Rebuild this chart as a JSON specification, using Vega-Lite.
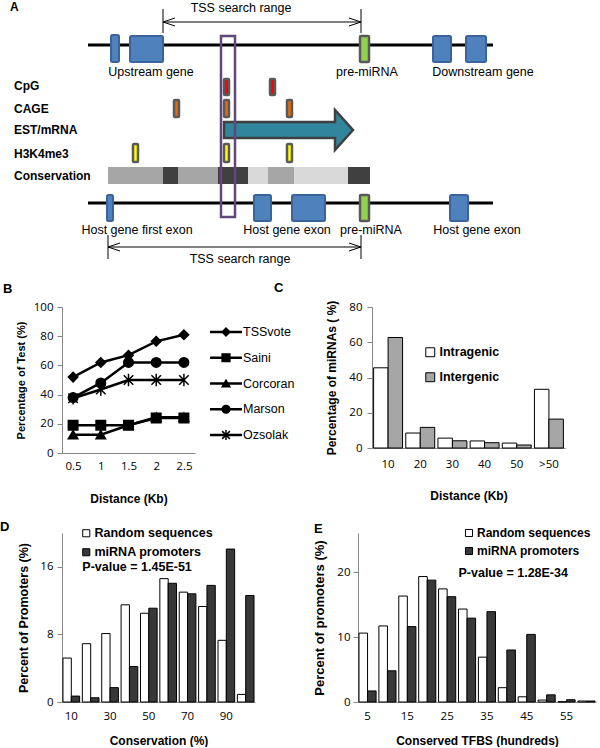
{
  "$schema": "https://vega.github.io/schema/vega-lite/v6.json",
  "padding": 0,
  "spacing": 16,
  "columns": 1,
  "resolve": {"scale": {"fill": "independent", "xOffset": "independent", "shape": "independent", "color": "independent"}, "legend": {"fill": "independent"}},
  "config": {
    "view": {"stroke": null},
    "font": "Liberation Sans",
    "axis": {"grid": false, "labelOverlap": false, "domainColor": "#868686", "tickColor": "#868686", "tickSize": 5, "labelFont": "Open Sans", "labelFontSize": 11.5, "labelColor": "#000", "titleFont": "Liberation Sans", "titleFontWeight": "bold", "titleColor": "#000", "titleFontSize": 12},
    "axisX": {"ticks": false, "labelAngle": 0},
    "title": {"font": "Liberation Sans", "fontSize": 13, "fontWeight": "bold", "color": "#000", "anchor": "start", "frame": "group"},
    "legend": {"title": null, "orient": "none", "symbolType": "square", "symbolStrokeColor": "black", "symbolStrokeWidth": 1, "labelFont": "Liberation Sans", "labelFontWeight": "bold", "labelFontSize": 12.5, "labelColor": "#000"}
  },
  "datasets": {
    "aCons": [
      {"x": 108, "x2": 163, "y": 167, "y2": 184, "level": "mid"},
      {"x": 163, "x2": 178, "y": 167, "y2": 184, "level": "high"},
      {"x": 178, "x2": 218, "y": 167, "y2": 184, "level": "mid"},
      {"x": 218, "x2": 248, "y": 167, "y2": 184, "level": "high"},
      {"x": 248, "x2": 268, "y": 167, "y2": 184, "level": "low"},
      {"x": 268, "x2": 294, "y": 167, "y2": 184, "level": "mid"},
      {"x": 294, "x2": 348, "y": 167, "y2": 184, "level": "low"},
      {"x": 348, "x2": 370, "y": 167, "y2": 184, "level": "high"}
    ],
    "aLines": [
      {"x": 88, "x2": 493, "y": 45},
      {"x": 88, "x2": 493, "y": 203}
    ],
    "aExons": [
      {"x": 111, "x2": 119, "y": 35, "y2": 62},
      {"x": 130, "x2": 163, "y": 36, "y2": 62},
      {"x": 433, "x2": 451, "y": 36, "y2": 62},
      {"x": 466, "x2": 486, "y": 36, "y2": 62},
      {"x": 107, "x2": 113, "y": 195, "y2": 221},
      {"x": 254, "x2": 271, "y": 195, "y2": 221},
      {"x": 292, "x2": 325, "y": 195, "y2": 221},
      {"x": 450, "x2": 468, "y": 195, "y2": 221}
    ],
    "aMirna": [
      {"x": 360, "x2": 369, "y": 36, "y2": 62},
      {"x": 360, "x2": 369, "y": 195, "y2": 221}
    ],
    "aMarks": [
      {"track": "CpG", "x": 224, "x2": 229, "y": 79, "y2": 95},
      {"track": "CpG", "x": 270, "x2": 275, "y": 79, "y2": 95},
      {"track": "CAGE", "x": 174, "x2": 179, "y": 100, "y2": 117},
      {"track": "CAGE", "x": 224, "x2": 229, "y": 100, "y2": 117},
      {"track": "CAGE", "x": 287, "x2": 292, "y": 100, "y2": 117},
      {"track": "H3K4me3", "x": 133, "x2": 138, "y": 144, "y2": 162},
      {"track": "H3K4me3", "x": 224, "x2": 229, "y": 144, "y2": 162},
      {"track": "H3K4me3", "x": 287, "x2": 292, "y": 144, "y2": 162}
    ],
    "aArrow": [{"x": 288.5, "y": 130}],
    "aBox": [{"x": 221, "x2": 235, "y": 36, "y2": 217}],
    "aRange": [
      {"x": 163, "x2": 361, "y": 22, "t1": 9, "t2": 33},
      {"x": 108, "x2": 361, "y": 247, "t1": 235, "t2": 259}
    ],
    "aText": [
      {"label": "TSS search range", "x": 241, "y": 8},
      {"label": "Upstream gene", "x": 151, "y": 72},
      {"label": "pre-miRNA", "x": 367, "y": 72},
      {"label": "Downstream gene", "x": 483, "y": 72},
      {"label": "Host gene first exon", "x": 137, "y": 230},
      {"label": "Host gene exon", "x": 287, "y": 230},
      {"label": "pre-miRNA", "x": 371, "y": 230},
      {"label": "Host gene exon", "x": 477, "y": 230},
      {"label": "TSS search range", "x": 240, "y": 259}
    ],
    "aBold": [
      {"label": "A", "x": 10, "y": 7},
      {"label": "CpG", "x": 14, "y": 86},
      {"label": "CAGE", "x": 14, "y": 109},
      {"label": "EST/mRNA", "x": 14, "y": 130},
      {"label": "H3K4me3", "x": 14, "y": 154},
      {"label": "Conservation", "x": 14, "y": 176}
    ],
    "bLines": [
      {"method": "TSSvote", "dist": "0.5", "pct": 52},
      {"method": "TSSvote", "dist": "1", "pct": 62},
      {"method": "TSSvote", "dist": "1.5", "pct": 67},
      {"method": "TSSvote", "dist": "2", "pct": 76.5},
      {"method": "TSSvote", "dist": "2.5", "pct": 81},
      {"method": "Corcoran", "dist": "0.5", "pct": 12.5},
      {"method": "Corcoran", "dist": "1", "pct": 12.5},
      {"method": "Corcoran", "dist": "1.5", "pct": 19},
      {"method": "Corcoran", "dist": "2", "pct": 24.5},
      {"method": "Corcoran", "dist": "2.5", "pct": 24.5},
      {"method": "Saini", "dist": "0.5", "pct": 19},
      {"method": "Saini", "dist": "1", "pct": 19},
      {"method": "Saini", "dist": "1.5", "pct": 19},
      {"method": "Saini", "dist": "2", "pct": 24},
      {"method": "Saini", "dist": "2.5", "pct": 24},
      {"method": "Marson", "dist": "0.5", "pct": 38},
      {"method": "Marson", "dist": "1", "pct": 48},
      {"method": "Marson", "dist": "1.5", "pct": 62},
      {"method": "Marson", "dist": "2", "pct": 62},
      {"method": "Marson", "dist": "2.5", "pct": 62},
      {"method": "Ozsolak", "dist": "0.5", "pct": 37.5},
      {"method": "Ozsolak", "dist": "1", "pct": 43.5},
      {"method": "Ozsolak", "dist": "1.5", "pct": 50},
      {"method": "Ozsolak", "dist": "2", "pct": 50},
      {"method": "Ozsolak", "dist": "2.5", "pct": 50}
    ],
    "bMethods": [
      {"method": "TSSvote"}, {"method": "Saini"}, {"method": "Corcoran"}, {"method": "Marson"}, {"method": "Ozsolak"}
    ],
    "cBars": [
      {"bin": "10", "type": "Intragenic", "pct": 45.5},
      {"bin": "10", "type": "Intergenic", "pct": 62.7},
      {"bin": "20", "type": "Intragenic", "pct": 8.5},
      {"bin": "20", "type": "Intergenic", "pct": 11.7},
      {"bin": "30", "type": "Intragenic", "pct": 5.6},
      {"bin": "30", "type": "Intergenic", "pct": 4.1},
      {"bin": "40", "type": "Intragenic", "pct": 4.0},
      {"bin": "40", "type": "Intergenic", "pct": 3.0},
      {"bin": "50", "type": "Intragenic", "pct": 2.8},
      {"bin": "50", "type": "Intergenic", "pct": 1.7},
      {"bin": ">50", "type": "Intragenic", "pct": 33.3},
      {"bin": ">50", "type": "Intergenic", "pct": 16.4}
    ],
    "dBars": [
      {"bin": "10", "set": "Random sequences", "pct": 5.2},
      {"bin": "10", "set": "miRNA promoters", "pct": 0.7},
      {"bin": "20", "set": "Random sequences", "pct": 6.9},
      {"bin": "20", "set": "miRNA promoters", "pct": 0.5},
      {"bin": "30", "set": "Random sequences", "pct": 8.1},
      {"bin": "30", "set": "miRNA promoters", "pct": 1.7},
      {"bin": "40", "set": "Random sequences", "pct": 11.5},
      {"bin": "40", "set": "miRNA promoters", "pct": 4.2},
      {"bin": "50", "set": "Random sequences", "pct": 10.5},
      {"bin": "50", "set": "miRNA promoters", "pct": 11.1},
      {"bin": "60", "set": "Random sequences", "pct": 14.6},
      {"bin": "60", "set": "miRNA promoters", "pct": 14.05},
      {"bin": "70", "set": "Random sequences", "pct": 13.0},
      {"bin": "70", "set": "miRNA promoters", "pct": 12.8},
      {"bin": "80", "set": "Random sequences", "pct": 11.3},
      {"bin": "80", "set": "miRNA promoters", "pct": 13.8},
      {"bin": "90", "set": "Random sequences", "pct": 7.3},
      {"bin": "90", "set": "miRNA promoters", "pct": 18.1},
      {"bin": "100", "set": "Random sequences", "pct": 0.9},
      {"bin": "100", "set": "miRNA promoters", "pct": 12.6}
    ],
    "eBars": [
      {"bin": "5", "set": "Random sequences", "pct": 10.6},
      {"bin": "5", "set": "miRNA promoters", "pct": 1.7},
      {"bin": "10", "set": "Random sequences", "pct": 11.7},
      {"bin": "10", "set": "miRNA promoters", "pct": 4.8},
      {"bin": "15", "set": "Random sequences", "pct": 16.3},
      {"bin": "15", "set": "miRNA promoters", "pct": 11.6},
      {"bin": "20", "set": "Random sequences", "pct": 19.3},
      {"bin": "20", "set": "miRNA promoters", "pct": 18.75},
      {"bin": "25", "set": "Random sequences", "pct": 17.4},
      {"bin": "25", "set": "miRNA promoters", "pct": 16.2},
      {"bin": "30", "set": "Random sequences", "pct": 14.3},
      {"bin": "30", "set": "miRNA promoters", "pct": 12.9},
      {"bin": "35", "set": "Random sequences", "pct": 6.9},
      {"bin": "35", "set": "miRNA promoters", "pct": 13.9},
      {"bin": "40", "set": "Random sequences", "pct": 2.2},
      {"bin": "40", "set": "miRNA promoters", "pct": 8.0},
      {"bin": "45", "set": "Random sequences", "pct": 0.8},
      {"bin": "45", "set": "miRNA promoters", "pct": 10.4},
      {"bin": "50", "set": "Random sequences", "pct": 0.3},
      {"bin": "50", "set": "miRNA promoters", "pct": 1.1},
      {"bin": "55", "set": "Random sequences", "pct": 0.05},
      {"bin": "55", "set": "miRNA promoters", "pct": 0.35},
      {"bin": "60", "set": "Random sequences", "pct": 0.15},
      {"bin": "60", "set": "miRNA promoters", "pct": 0.15}
    ]
  },
  "concat": [
    {
      "width": 538,
      "height": 266,
      "encoding": {
        "x": {"field": "x", "type": "quantitative", "scale": {"domain": [62, 600], "nice": false, "zero": false}, "axis": null},
        "y": {"field": "y", "type": "quantitative", "scale": {"domain": [0, 266], "nice": false, "zero": false, "reverse": true}, "axis": null}
      },
      "layer": [
        {"data": {"name": "aCons"}, "mark": {"type": "rect"},
         "encoding": {"x2": {"field": "x2"}, "y2": {"field": "y2"},
           "color": {"field": "level", "type": "nominal", "scale": {"domain": ["low", "mid", "high"], "range": ["#d9d9d9", "#a6a6a6", "#404040"]}, "legend": null}}},
        {"data": {"name": "aLines"}, "mark": {"type": "rule", "color": "black", "strokeWidth": 3},
         "encoding": {"x2": {"field": "x2"}}},
        {"data": {"name": "aExons"}, "mark": {"type": "rect", "fill": "#4f81bd", "stroke": "#3a659c", "strokeWidth": 2, "cornerRadius": 1.5},
         "encoding": {"x2": {"field": "x2"}, "y2": {"field": "y2"}}},
        {"data": {"name": "aMirna"}, "mark": {"type": "rect", "fill": "#92d050", "stroke": "#595959", "strokeWidth": 2.5, "cornerRadius": 1},
         "encoding": {"x2": {"field": "x2"}, "y2": {"field": "y2"}}},
        {"data": {"name": "aMarks"}, "mark": {"type": "rect", "stroke": "#5a5a5a", "strokeWidth": 2.5, "cornerRadius": 1},
         "encoding": {"x2": {"field": "x2"}, "y2": {"field": "y2"},
           "fill": {"field": "track", "type": "nominal", "scale": {"domain": ["CpG", "CAGE", "H3K4me3"], "range": ["#ff0000", "#e46c0a", "#ffff00"]}, "legend": null}}},
        {"data": {"name": "aArrow"}, "mark": {"type": "point", "shape": "M-3.225,-0.4L2.325,-0.4L2.325,-1L3.225,0L2.325,1L2.325,0.4L-3.225,0.4Z", "size": 1600, "filled": true, "fill": "#31859c", "stroke": "#404040", "strokeWidth": 2.5, "opacity": 1},
         "encoding": {}},
        {"data": {"name": "aBox"}, "mark": {"type": "rect", "fill": null, "fillOpacity": 0, "stroke": "#60497a", "strokeWidth": 2.5},
         "encoding": {"x2": {"field": "x2"}, "y2": {"field": "y2"}}},
        {"data": {"name": "aRange"}, "mark": {"type": "rule", "color": "black", "strokeWidth": 1},
         "encoding": {"x2": {"field": "x2"}}},
        {"data": {"name": "aRange"}, "mark": {"type": "rule", "color": "black", "strokeWidth": 1},
         "encoding": {"y": {"field": "t1", "type": "quantitative"}, "y2": {"field": "t2"}}},
        {"data": {"name": "aRange"}, "mark": {"type": "rule", "color": "black", "strokeWidth": 1},
         "encoding": {"x": {"field": "x2", "type": "quantitative"}, "y": {"field": "t1", "type": "quantitative"}, "y2": {"field": "t2"}}},
        {"data": {"name": "aRange"}, "mark": {"type": "point", "shape": "M3,-1L0,0L3,1", "size": 64, "filled": false, "stroke": "black", "strokeWidth": 1, "opacity": 1},
         "encoding": {}},
        {"data": {"name": "aRange"}, "mark": {"type": "point", "shape": "M-3,-1L0,0L-3,1", "size": 64, "filled": false, "stroke": "black", "strokeWidth": 1, "opacity": 1},
         "encoding": {"x": {"field": "x2", "type": "quantitative"}}},
        {"data": {"name": "aText"}, "mark": {"type": "text", "fontSize": 12.5, "font": "Liberation Sans", "color": "#000", "align": "center", "baseline": "middle"},
         "encoding": {"text": {"field": "label"}}},
        {"data": {"name": "aBold"}, "mark": {"type": "text", "fontSize": 12, "fontWeight": "bold", "font": "Liberation Sans", "color": "#000", "align": "left", "baseline": "middle"},
         "encoding": {"text": {"field": "label"}}}
      ],
      "resolve": {"scale": {"color": "independent", "fill": "independent"}}
    },
    {
      "spacing": 13,
      "resolve": {"scale": {"fill": "independent", "xOffset": "independent", "shape": "independent"}, "legend": {"fill": "independent"}},
      "hconcat": [
        {
          "width": 133,
          "height": 146,
          "title": {"text": "B", "dx": -59, "offset": 5},
          "data": {"name": "bLines"},
          "encoding": {
            "x": {"field": "dist", "type": "ordinal", "sort": ["0.5", "1", "1.5", "2", "2.5"], "scale": {"type": "point", "padding": 0.4},
                  "axis": {"title": "Distance (Kb)", "labelPadding": 7, "titlePadding": 22}},
            "y": {"field": "pct", "type": "quantitative", "scale": {"domain": [0, 100]},
                  "axis": {"values": [0, 20, 40, 60, 80, 100], "title": "Percentage of Test (%)", "titleFontSize": 11, "titlePadding": 7, "labelPadding": 4}}
          },
          "layer": [
            {"mark": {"type": "line", "color": "black", "strokeWidth": 2.5}, "encoding": {"detail": {"field": "method"}}},
            {"mark": {"type": "point", "filled": true, "color": "black", "stroke": "black", "strokeWidth": 1.5, "opacity": 1, "size": 90},
             "encoding": {"shape": {"field": "method", "type": "nominal", "scale": {"domain": ["TSSvote", "Saini", "Corcoran", "Marson", "Ozsolak"], "range": ["diamond", "square", "triangle-up", "circle", "M-1,-1L1,1M-1,1L1,-1M0,-1.3L0,1.3"]}, "legend": null}}}
          ]
        },
        {
          "width": 102,
          "height": 146,
          "title": {"text": "C", "dx": 64, "offset": 12},
          "data": {"name": "bMethods"},
          "encoding": {
            "y": {"field": "method", "type": "nominal", "sort": ["TSSvote", "Saini", "Corcoran", "Marson", "Ozsolak"], "scale": {"type": "point", "range": [25, 128], "padding": 0}, "axis": null}
          },
          "layer": [
            {"mark": {"type": "rule", "color": "black", "strokeWidth": 2.5},
             "encoding": {"x": {"datum": 0, "type": "quantitative", "scale": {"domain": [0, 3.1875], "nice": false, "zero": false}, "axis": null}, "x2": {"datum": 1}}},
            {"mark": {"type": "point", "filled": true, "color": "black", "stroke": "black", "strokeWidth": 1.5, "opacity": 1, "size": 60},
             "encoding": {"x": {"datum": 0.5, "type": "quantitative"},
               "shape": {"field": "method", "type": "nominal", "scale": {"domain": ["TSSvote", "Saini", "Corcoran", "Marson", "Ozsolak"], "range": ["diamond", "square", "triangle-up", "circle", "M-1,-1L1,1M-1,1L1,-1M0,-1.3L0,1.3"]}, "legend": null}}},
            {"mark": {"type": "text", "align": "left", "baseline": "middle", "dx": 1, "fontSize": 12.5, "font": "Liberation Sans", "color": "#000"},
             "encoding": {"x": {"datum": 1, "type": "quantitative"}, "text": {"field": "method"}}}
          ]
        },
        {
          "width": 193,
          "height": 141,
          "data": {"name": "cBars"},
          "mark": {"type": "bar", "stroke": "black", "strokeWidth": 1},
          "encoding": {
            "x": {"field": "bin", "type": "nominal", "sort": ["10", "20", "30", "40", "50", ">50"], "scale": {"paddingInner": 0.1, "paddingOuter": 0.05},
                  "axis": {"title": "Distance (Kb)", "labelPadding": 10, "titlePadding": 21}},
            "xOffset": {"field": "type", "type": "nominal", "sort": ["Intragenic", "Intergenic"]},
            "y": {"field": "pct", "type": "quantitative", "scale": {"domain": [0, 80]},
                  "axis": {"values": [0, 20, 40, 60, 80], "title": "Percentage of miRNAs ( %)", "titleFontSize": 12, "titlePadding": 10, "labelPadding": 5}},
            "fill": {"field": "type", "type": "nominal", "scale": {"domain": ["Intragenic", "Intergenic"], "range": ["#ffffff", "#a6a6a6"]},
                     "legend": {"legendX": 52, "legendY": 39, "symbolSize": 80, "rowPadding": 11, "labelOffset": 3}}
          }
        }
      ]
    },
    {
      "spacing": 58,
      "resolve": {"scale": {"fill": "independent", "xOffset": "independent"}, "legend": {"fill": "independent"}},
      "hconcat": [
        {
          "width": 193,
          "height": 169,
          "title": {"text": "D", "dx": -62, "offset": -7},
          "layer": [
            {
              "data": {"name": "dBars"},
              "mark": {"type": "bar", "stroke": "black", "strokeWidth": 1},
              "encoding": {
                "x": {"field": "bin", "type": "nominal", "sort": ["10", "20", "30", "40", "50", "60", "70", "80", "90", "100"], "scale": {"paddingInner": 0.14, "paddingOuter": 0.05},
                      "axis": {"values": ["10", "30", "50", "70", "90"], "title": "Conservation (%)", "labelPadding": 8, "titlePadding": 14}},
                "xOffset": {"field": "set", "type": "nominal", "sort": ["Random sequences", "miRNA promoters"]},
                "y": {"field": "pct", "type": "quantitative", "scale": {"domain": [0, 20]},
                      "axis": {"values": [0, 4, 8, 12, 16, 20], "title": "Percent of Promoters (%)", "titleFontSize": 12.5, "titlePadding": 9, "labelPadding": 4}},
                "fill": {"field": "set", "type": "nominal", "scale": {"domain": ["Random sequences", "miRNA promoters"], "range": ["#ffffff", "#383838"]},
                         "legend": {"legendX": 18, "legendY": -6, "symbolSize": 50, "rowPadding": 6, "labelOffset": 2}}
              }
            },
            {
              "data": {"values": [{"label": "P-value = 1.45E-51"}]},
              "mark": {"type": "text", "align": "left", "baseline": "middle", "fontWeight": "bold", "fontSize": 12.5, "font": "Liberation Sans", "color": "#000"},
              "encoding": {"x": {"datum": "20", "bandPosition": 0}, "y": {"datum": 16}, "text": {"field": "label"}}
            }
          ]
        },
        {
          "width": 238,
          "height": 169,
          "title": {"text": "E", "dx": -44, "offset": -9},
          "layer": [
            {
              "data": {"name": "eBars"},
              "mark": {"type": "bar", "stroke": "black", "strokeWidth": 1},
              "encoding": {
                "x": {"field": "bin", "type": "nominal", "sort": ["5", "10", "15", "20", "25", "30", "35", "40", "45", "50", "55", "60"], "scale": {"paddingInner": 0.14, "paddingOuter": 0.05},
                      "axis": {"values": ["5", "15", "25", "35", "45", "55"], "title": "Conserved TFBS (hundreds)", "labelPadding": 8, "titlePadding": 14}},
                "xOffset": {"field": "set", "type": "nominal", "sort": ["Random sequences", "miRNA promoters"]},
                "y": {"field": "pct", "type": "quantitative", "scale": {"domain": [0, 25]},
                      "axis": {"values": [0, 5, 10, 15, 20, 25], "title": "Percent of promoters (%)", "titleFontSize": 13, "titlePadding": 10, "labelPadding": 3}},
                "fill": {"field": "set", "type": "nominal", "scale": {"domain": ["Random sequences", "miRNA promoters"], "range": ["#ffffff", "#383838"]},
                         "legend": {"legendX": 105, "legendY": -6, "symbolSize": 50, "rowPadding": 6, "labelOffset": 2, "labelFontSize": 12}}
              }
            },
            {
              "data": {"values": [{"label": "P-value = 1.28E-34"}]},
              "mark": {"type": "text", "align": "left", "baseline": "middle", "fontWeight": "bold", "fontSize": 12.5, "font": "Liberation Sans", "color": "#000"},
              "encoding": {"x": {"datum": "30", "bandPosition": 0}, "y": {"datum": 19.8}, "text": {"field": "label"}}
            }
          ]
        }
      ]
    }
  ]
}
